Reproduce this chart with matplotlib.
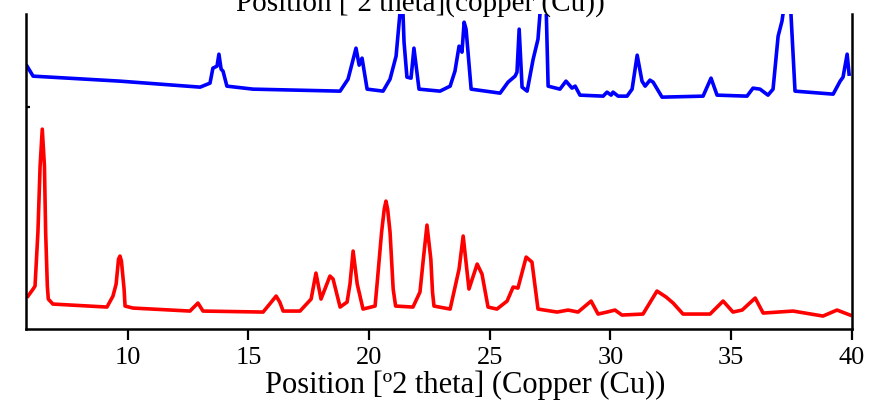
import numpy as np
import matplotlib.pyplot as plt

plt.rcParams['font.family'] = ['Liberation Serif', 'DejaVu Serif']

# XRD patterns (2theta in degrees, intensity in arbitrary units)
red_theta = [5.87, 6.08, 6.16, 6.28, 6.37, 6.46, 6.55, 6.60, 6.67, 6.71, 6.90,
             9.14, 9.39, 9.52, 9.62, 9.68, 9.74, 9.85, 9.89, 10.22, 12.58, 12.91, 13.12,
             15.61, 15.95, 16.15, 16.30, 16.44, 17.14, 17.60, 17.80, 18.01, 18.38, 18.51,
             18.80, 19.09, 19.21, 19.34, 19.51, 19.75, 20.25, 20.34, 20.52, 20.63, 20.70,
             20.77, 20.87, 21.00, 21.10, 21.82, 22.11, 22.25, 22.40, 22.56, 22.63, 22.69,
             23.36, 23.73, 23.90, 24.14, 24.48, 24.68, 24.93, 25.30, 25.72, 25.97, 26.17,
             26.51, 26.75, 27.00, 27.79, 28.25, 28.66, 29.20, 29.49, 29.86, 30.19, 30.48,
             31.35, 31.93, 32.31, 32.60, 33.01, 34.13, 34.67, 35.08, 35.46, 36.00, 36.33,
             37.57, 38.81, 39.39, 39.93]
red_int = [33, 40, 43, 97, 163, 200, 163, 97, 43, 30, 25,
           22, 33, 45, 70, 73, 68, 40, 23, 21, 18, 26, 18,
           17, 27, 33, 27, 18, 18, 30, 56, 30, 53, 50,
           22, 27, 45, 78, 45, 20, 23, 47, 97, 120, 128,
           120, 97, 40, 23, 22, 37, 70, 104, 70, 37, 23,
           20, 60, 93, 40, 65, 55, 22, 20, 28, 42, 41,
           72, 67, 20, 17, 19, 17, 28, 15, 17, 19, 14,
           15, 38, 32, 26, 15, 15, 28, 17, 19, 31, 16,
           18, 13, 19, 14]

blue_theta = [5.83, 6.08, 9.68, 13.00, 13.41, 13.53, 13.70, 13.78, 13.87, 13.95,
              14.11, 15.19, 18.80, 19.13, 19.46, 19.59, 19.71, 19.92, 20.58, 20.87,
              21.12, 21.37, 21.45, 21.57, 21.74, 21.86, 22.07, 22.94, 23.36, 23.56,
              23.73, 23.85, 23.94, 24.02, 24.23, 25.43, 25.76, 26.05, 26.13, 26.22,
              26.34, 26.55, 26.80, 27.00, 27.13, 27.33, 27.42, 27.91, 28.16, 28.41,
              28.54, 28.74, 29.70, 29.86, 30.03, 30.11, 30.32, 30.69, 30.90, 31.11,
              31.31, 31.44, 31.64, 31.77, 32.14, 33.84, 34.17, 34.42, 35.66, 35.91,
              36.20, 36.53, 36.74, 36.95, 37.11, 37.24, 37.45, 37.65, 39.23, 39.52,
              39.64, 39.81, 39.89]
blue_int = [263, 253, 248, 242, 246, 261, 263, 275, 260, 258,
            243, 240, 238, 250, 281, 264, 271, 240, 238, 250,
            273, 340, 287, 252, 251, 281, 240, 238, 243, 258,
            283, 277, 307, 300, 240, 236, 247, 253, 257, 300,
            242, 238, 270, 290, 330, 330, 243, 240, 248, 241,
            243, 234, 233, 237, 234, 237, 233, 233, 240, 274,
            248, 243, 249, 247, 232, 233, 251, 234, 233, 241,
            240, 234, 240, 293, 308, 330, 330, 238, 235, 248,
            252, 275, 255]

xticks = [10, 15, 20, 25, 30, 35, 40]

fig = plt.figure(figsize=(8.7, 4.1), dpi=100)
ax = fig.add_axes([0.030, 0.195, 0.949, 0.768])

ax.plot(red_theta, red_int, color='#ff0000', lw=2.6, solid_joinstyle='round')
ax.plot(blue_theta, blue_int, color='#0000ff', lw=2.6, solid_joinstyle='round')

ax.set_xlim(5.79, 40)
ax.set_ylim(0, 315)
ax.set_xticks(xticks)
ax.set_yticks([222])
ax.set_yticklabels([])
ax.tick_params(axis='x', direction='out', length=8, width=1.6, labelsize=19, pad=4)
ax.tick_params(axis='y', direction='in', length=3, width=1.6)
ax.set_xlabel('Position [º2 theta] (Copper (Cu))', fontsize=22)
ax.xaxis.set_label_coords(0.532, -0.13)

ax.spines['top'].set_visible(False)
for s in ['left', 'right', 'bottom']:
    ax.spines[s].set_linewidth(1.8)

# title from the upper panel, cut off by the figure edge
fig.text(0.483, 0.975, 'Position [º2 theta](copper (Cu))', ha='center', va='baseline', fontsize=21)

fig.savefig('out.png', dpi=100)
